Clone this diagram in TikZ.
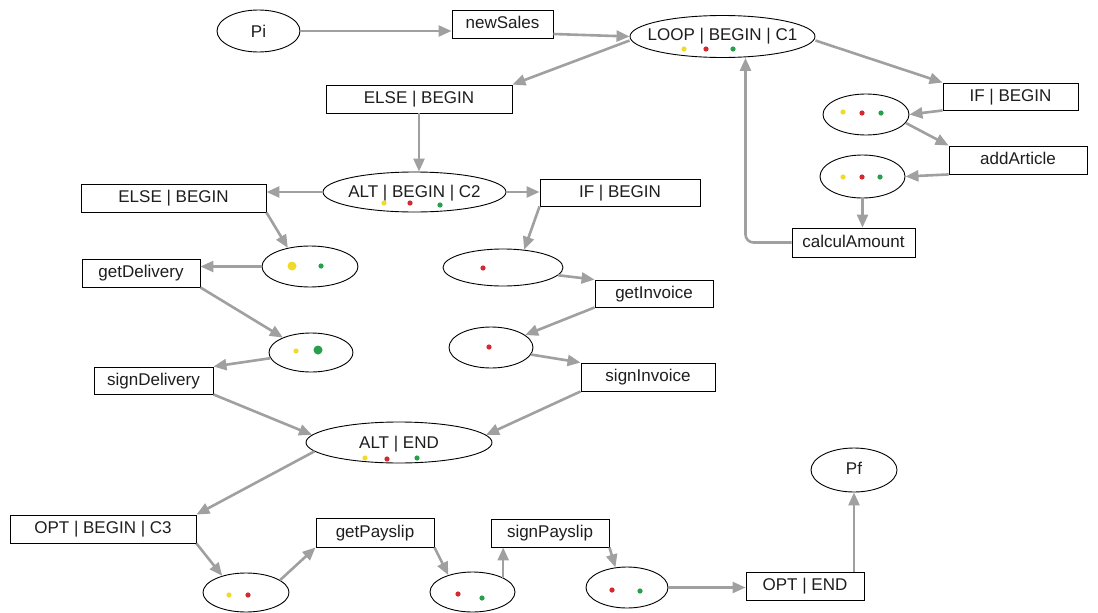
\documentclass[tikz,border=0pt]{standalone}
\usepackage{fontspec}
\setmainfont{Liberation Sans}
\usetikzlibrary{arrows.meta,shapes.geometric}
\definecolor{edgegray}{RGB}{160,160,160}
\definecolor{dotyel}{RGB}{240,220,40}
\definecolor{dotred}{RGB}{215,40,45}
\definecolor{dotgrn}{RGB}{40,160,75}
\definecolor{txt}{RGB}{30,30,30}
\tikzset{
  box/.style={draw=black, line width=0.9pt, rectangle, inner sep=0pt, text=txt,
    text height=12.5pt, text depth=3.5pt, font=\fontsize{17}{20}\selectfont},
  place/.style={draw=black, line width=0.9pt, ellipse, inner sep=0pt},
  lbl/.style={inner sep=0pt, text=txt, font=\fontsize{17}{20}\selectfont},
  edge/.style={draw=edgegray, line width=2.6pt, -{Triangle[length=13pt,width=11pt]}},
}
\begin{document}
\begin{tikzpicture}[x=1pt,y=-1pt]
\useasboundingbox[fill=white] (0,0) rectangle (1098,613);
% places (ellipses)
\node[place, minimum width=83pt, minimum height=42pt] (pi) at (258.5,31) {};
\node[lbl, anchor=base] (piT) at (258.5,37) {Pi};
\node[place, minimum width=185pt, minimum height=42pt] (loop) at (722.5,36.5) {};
\node[lbl, anchor=base] (loopT) at (722.5,40) {LOOP | BEGIN | C1};
\node[place, minimum width=183pt, minimum height=40pt] (alt2) at (414.5,192) {};
\node[lbl, anchor=base] (alt2T) at (414.5,197) {ALT | BEGIN | C2};
\node[place, minimum width=86pt, minimum height=41pt] (eL1) at (866,114.5) {};
\node[place, minimum width=85pt, minimum height=43pt] (eL2) at (862.5,176.5) {};
\node[place, minimum width=96pt, minimum height=41pt] (eD1) at (310,266.5) {};
\node[place, minimum width=84pt, minimum height=39pt] (eD2) at (311,352.5) {};
\node[place, minimum width=120pt, minimum height=37pt] (eI1) at (503,267.5) {};
\node[place, minimum width=84pt, minimum height=41pt] (eI2) at (491,347.5) {};
\node[place, minimum width=186pt, minimum height=41pt] (altE) at (399,442.5) {};
\node[lbl, anchor=base] (altET) at (399,448) {ALT | END};
\node[place, minimum width=86pt, minimum height=39pt] (eO1) at (246,592.5) {};
\node[place, minimum width=85pt, minimum height=40pt] (eO2) at (472.5,592) {};
\node[place, minimum width=82pt, minimum height=41pt] (eO3) at (627,587.5) {};
\node[place, minimum width=86pt, minimum height=44pt] (pf) at (854,470) {};
\node[lbl, anchor=base] (pfT) at (854,474) {Pf};
% transitions (boxes)
\node[box, minimum width=101pt, minimum height=28pt] (newSales) at (502.5,24) {newSales};
\node[box, minimum width=186pt, minimum height=28pt] (elseT) at (419,99) {ELSE | BEGIN};
\node[box, minimum width=185pt, minimum height=28pt] (elseL) at (173.5,198) {ELSE | BEGIN};
\node[box, minimum width=160pt, minimum height=27pt] (ifM) at (620,192.5) {IF | BEGIN};
\node[box, minimum width=135pt, minimum height=27pt] (ifR) at (1010.5,96.5) {IF | BEGIN};
\node[box, minimum width=138pt, minimum height=28pt] (addArticle) at (1018,160) {addArticle};
\node[box, minimum width=123pt, minimum height=29pt] (calc) at (853.5,242.5) {calculAmount};
\node[box, minimum width=118pt, minimum height=28pt] (getDel) at (141,273) {getDelivery};
\node[box, minimum width=119pt, minimum height=27pt] (signDel) at (153.5,380.5) {signDelivery};
\node[box, minimum width=118pt, minimum height=27pt] (getInv) at (654,293.5) {getInvoice};
\node[box, minimum width=134pt, minimum height=28pt] (signInv) at (648,377) {signInvoice};
\node[box, minimum width=186pt, minimum height=28pt] (optB) at (103,529) {OPT | BEGIN | C3};
\node[box, minimum width=118pt, minimum height=29pt] (getPay) at (375,532.5) {getPayslip};
\node[box, minimum width=118pt, minimum height=28pt] (signPay) at (550,533) {signPayslip};
\node[box, minimum width=118pt, minimum height=28pt] (optE) at (805,586) {OPT | END};
% tokens
\fill[dotyel] (684,49) circle (2.6pt); \fill[dotred] (706,49) circle (2.6pt); \fill[dotgrn] (733,49) circle (2.6pt);
\fill[dotyel] (384,203) circle (2.6pt); \fill[dotred] (410,203) circle (2.6pt); \fill[dotgrn] (440,205) circle (2.6pt);
\fill[dotyel] (843,112) circle (2.6pt); \fill[dotred] (862,113) circle (2.6pt); \fill[dotgrn] (881,113) circle (2.6pt);
\fill[dotyel] (843,177) circle (2.6pt); \fill[dotred] (862,177) circle (2.6pt); \fill[dotgrn] (880,177) circle (2.6pt);
\fill[dotyel] (292,266) circle (4.5pt); \fill[dotgrn] (321,266) circle (2.6pt);
\fill[dotyel] (296,351) circle (2.6pt); \fill[dotgrn] (318,350) circle (4.5pt);
\fill[dotred] (483,268) circle (2.6pt);
\fill[dotred] (489,347) circle (2.6pt);
\fill[dotyel] (365,458) circle (2.6pt); \fill[dotred] (387,459) circle (2.6pt); \fill[dotgrn] (417,458) circle (2.6pt);
\fill[dotyel] (229,595) circle (2.6pt); \fill[dotred] (248,595) circle (2.6pt);
\fill[dotred] (458,594) circle (2.6pt); \fill[dotgrn] (482,598) circle (2.6pt);
\fill[dotred] (612,590) circle (2.6pt); \fill[dotgrn] (640,591) circle (2.6pt);
% arcs
\draw[edge] (pi.east) -- (pi.east -| newSales.west);
\draw[edge] ([yshift=-10pt]newSales.east) -- (loop.west);
\draw[edge] ([yshift=-4pt]loop.west) -- (elseT.north east);
\draw[edge] ([yshift=-4pt]loop.east) -- (ifR.north west);
\draw[edge] (ifR.south west) -- (eL1.east);
\draw[edge] (eL1.-12) -- (addArticle.north west);
\draw[edge] (addArticle.south west) -- (eL2.east);
\draw[edge] (eL2.south) -- (eL2.south |- calc.north);
\draw[edge, rounded corners=8pt] (calc.west) -| ([xshift=23pt]loop.south);
\draw[edge] (elseT.south) -- (elseT.south |- alt2.north);
\draw[edge] (alt2.west) -- (alt2.west -| elseL.east);
\draw[edge] (alt2.east) -- (alt2.east -| ifM.west);
\draw[edge] (elseL.south east) -- (eD1.140);
\draw[edge] (eD1.west) -- (eD1.west -| getDel.east);
\draw[edge] (getDel.south east) -- (eD2.152);
\draw[edge] (eD2.188) -- (signDel.north east);
\draw[edge] (signDel.south east) -- (altE.175);
\draw[edge] (ifM.south west) -- (eI1.40);
\draw[edge] (eI1.-8) -- (getInv.north west);
\draw[edge] (getInv.south west) -- (eI2.20);
\draw[edge] (eI2.-10) -- (signInv.north west);
\draw[edge] (signInv.south west) -- (altE.5);
\draw[edge] (altE.186) -- (optB.north east);
\draw[edge] (optB.south east) -- (eO1.145);
\draw[edge] (eO1.20) -- (getPay.south west);
\draw[edge] (getPay.south east) -- (eO2.145);
\draw[edge] (eO2.25) -- (eO2.25 |- signPay.south);
\draw[edge] (signPay.south east) -- (eO3.120);
\draw[edge] (eO3.east) -- (eO3.east -| optE.west);
\draw[edge] (pf.south |- optE.north) -- (pf.south);
\end{tikzpicture}
\end{document}
